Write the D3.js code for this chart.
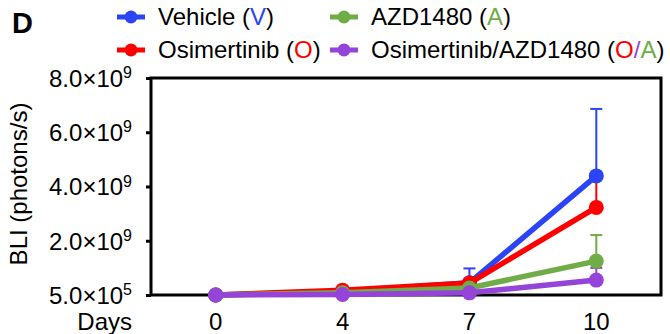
<!DOCTYPE html>
<html>
<head>
<meta charset="utf-8">
<script src="https://cdn.jsdelivr.net/npm/d3@7"></script>
<style>
  html, body { margin: 0; padding: 0; background: #fff; }
  svg { display: block; font-family: "Liberation Sans", Arial, Helvetica, sans-serif; }
</style>
</head>
<body>
<svg id="chart" width="670" height="334"></svg>
<script>
// Tumour burden (BLI) by treatment group over time
const days = ["0", "4", "7", "10"];

const vehicle      = [5e5, 0.12e9, 0.45e9, 4.39e9];
const vehicleErr   = [0, 0, 0.53e9, 2.47e9];
const osimertinib    = [5e5, 0.18e9, 0.44e9, 3.23e9];
const osimertinibErr = [0, 0, 0.10e9, 1.15e9];
const azd1480      = [5e5, 0.08e9, 0.26e9, 1.25e9];
const azd1480Err   = [0, 0, 0.05e9, 0.96e9];
const combo        = [5e5, 0.02e9, 0.08e9, 0.55e9];
const comboErr     = [0, 0, 0.02e9, 0.45e9];

const yTicks = [5e5, 2e9, 4e9, 6e9, 8e9];

const series = [
  { name: "Vehicle", values: vehicle, err: vehicleErr, color: "#2b44f5" },
  { name: "Osimertinib", values: osimertinib, err: osimertinibErr, color: "#ff0000" },
  { name: "AZD1480", values: azd1480, err: azd1480Err, color: "#70ad47" },
  { name: "Osimertinib/AZD1480", values: combo, err: comboErr, color: "#9444d8" }
];

const svg = d3.select("#chart");
const plot = { left: 151, right: 661, top: 78, bottom: 295 };

const x = d3.scalePoint().domain(days).range([plot.left, plot.right]).padding(0.51);
const y = d3.scaleLinear().domain([5e5, 8e9]).range([plot.bottom, plot.top]);

// Panel letter
svg.append("text").attr("x", 12).attr("y", 33)
  .attr("font-size", 29).attr("font-weight", "bold").text("D");

// Y axis with scientific tick labels
const yAxis = d3.axisLeft(y).tickValues(yTicks).tickSize(5).tickFormat("");
const yg = svg.append("g").attr("transform", `translate(${plot.left},0)`).call(yAxis);
yg.select(".domain").remove();
yg.selectAll(".tick line").attr("stroke", "#000").attr("stroke-width", 3);

yg.selectAll(".tick").each(function(d) {
  const exp = Math.floor(Math.log10(d));
  const mant = (d / Math.pow(10, exp)).toFixed(1);
  const t = d3.select(this).append("text")
    .attr("x", -19).attr("y", 0).attr("dy", "0.35em")
    .attr("text-anchor", "end").attr("fill", "#000").attr("font-size", 24)
    .attr("font-family", "Liberation Sans, Arial, sans-serif");
  t.append("tspan").text(mant + "\u00d710");
  t.append("tspan").attr("font-size", 16).attr("dy", "-0.55em").text(exp);
});

// Y axis title
svg.append("text")
  .attr("transform", "translate(27,184) rotate(-90)")
  .attr("text-anchor", "middle").attr("font-size", 24)
  .text("BLI (photons/s)");

// X labels
svg.append("g").selectAll("text").data(days).join("text")
  .attr("x", d => x(d)).attr("y", 330)
  .attr("text-anchor", "middle").attr("font-size", 24).text(d => d);
svg.append("text").attr("x", 132).attr("y", 330)
  .attr("text-anchor", "end").attr("font-size", 24).text("Days");

// Frame
svg.append("rect")
  .attr("x", plot.left).attr("y", plot.top)
  .attr("width", plot.right - plot.left).attr("height", plot.bottom - plot.top)
  .attr("fill", "none").attr("stroke", "#000").attr("stroke-width", 3);

// Upper error bars
const capW = 6;
series.forEach(s => {
  const g = svg.append("g").attr("stroke", s.color).attr("stroke-width", 2);
  days.forEach((d, i) => {
    if (!s.err[i]) return;
    const y0 = y(s.values[i]), y1 = y(s.values[i] + s.err[i]);
    g.append("line").attr("x1", x(d)).attr("x2", x(d)).attr("y1", y0).attr("y2", y1);
    g.append("line").attr("x1", x(d) - capW).attr("x2", x(d) + capW).attr("y1", y1).attr("y2", y1);
  });
});

// Lines and markers
const line = d3.line().x((v, i) => x(days[i])).y(v => y(v));
series.forEach(s => {
  svg.append("path").datum(s.values)
    .attr("d", line).attr("fill", "none")
    .attr("stroke", s.color).attr("stroke-width", 5.5).attr("stroke-linejoin", "round");
  svg.append("g").selectAll("circle").data(s.values).join("circle")
    .attr("cx", (v, i) => x(days[i])).attr("cy", v => y(v)).attr("r", 7.5)
    .attr("fill", s.color);
});

// Legend
const legendItems = [
  { color: series[0].color, lx: 117, ly: 17, parts: [["Vehicle (", "#000"], ["V", series[0].color], [")", "#000"]] },
  { color: series[2].color, lx: 330, ly: 17, parts: [["AZD1480 (", "#000"], ["A", series[2].color], [")", "#000"]] },
  { color: series[1].color, lx: 117, ly: 50, parts: [["Osimertinib (", "#000"], ["O", series[1].color], [")", "#000"]] },
  { color: series[3].color, lx: 330, ly: 50, parts: [["Osimertinib/AZD1480 (", "#000"], ["O", series[1].color], ["/", series[3].color], ["A", series[2].color], [")", "#000"]] }
];
legendItems.forEach(it => {
  const g = svg.append("g");
  g.append("line").attr("x1", it.lx).attr("x2", it.lx + 28).attr("y1", it.ly).attr("y2", it.ly)
    .attr("stroke", it.color).attr("stroke-width", 5);
  g.append("circle").attr("cx", it.lx + 14).attr("cy", it.ly).attr("r", 6.5).attr("fill", it.color);
  const t = g.append("text").attr("x", it.lx + 41).attr("y", it.ly).attr("dy", "0.35em").attr("font-size", 24);
  it.parts.forEach(p => t.append("tspan").attr("fill", p[1]).text(p[0]));
});
</script>
</body>
</html>
